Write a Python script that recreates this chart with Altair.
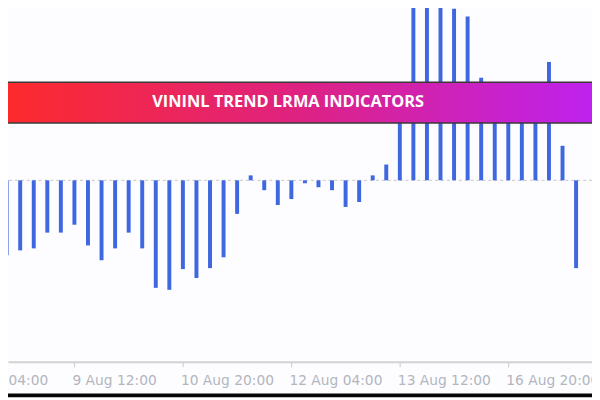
import altair as alt
import pandas as pd

# ---- data ----
bar_index = list(range(43))
lrma = [-76, -71, -69, -53, -53, -45, -66, -81, -69, -53, -69, -109, -111, -90,
        -99, -89, -78, -34, 5, -10, -25, -19, -3, -7, -10, -27, -22, 5, 16, 80,
        176, 182, 179, 174, 166, 104, 90, 88, 85, 92, 120, 35, -89]
tick_index = [-3, 5, 13, 21, 29, 37]
tick_labels = ["6 Aug 04:00", "9 Aug 12:00", "10 Aug 20:00",
               "12 Aug 04:00", "13 Aug 12:00", "16 Aug 20:00"]
title_text = "VININL TREND LRMA INDICATORS"

W, H = 592, 356

bars_df = pd.DataFrame({"i": bar_index, "v": lrma, "base": [0] * len(lrma)})
ticks_df = pd.DataFrame({"i": tick_index, "label": tick_labels})
one_df = pd.DataFrame({"zero": [0]})

xscale = alt.Scale(domain=[0.465, 42.81], nice=False, zero=False)
yscale = alt.Scale(domain=[-184, 172], nice=False, zero=False)

zero_line = alt.Chart(one_df).mark_rule(
    color="#c4c4c4", strokeDash=[3, 3], strokeWidth=1
).encode(y=alt.Y("zero:Q", scale=yscale, axis=None))

bars = alt.Chart(bars_df).mark_bar(size=4, color="#3f67e0").encode(
    x=alt.X("i:Q", scale=xscale,
            axis=alt.Axis(values=tick_index, labels=False, ticks=True, tickSize=5,
                          tickColor="#c8c8c8", domainColor="#d2d2d2", domainWidth=2,
                          grid=False, title=None)),
    y=alt.Y("v:Q", scale=yscale, axis=None),
    y2="base:Q",
)

banner = alt.Chart(one_df).mark_rect(
    color=alt.LinearGradient(
        gradient="linear", x1=0, x2=1, y1=0, y2=0,
        stops=[alt.GradientStop(color="#fd2a2c", offset=0),
               alt.GradientStop(color="#de2282", offset=0.5),
               alt.GradientStop(color="#be22ee", offset=1)])
).encode(x=alt.value(0), x2=alt.value(W), y=alt.value(72.5), y2=alt.value(114))

border_top = alt.Chart(one_df).mark_rule(color="#3a3a3a", strokeWidth=1.5).encode(
    x=alt.value(0), x2=alt.value(W), y=alt.value(72.5))
border_bot = alt.Chart(one_df).mark_rule(color="#3a3a3a", strokeWidth=1.5).encode(
    x=alt.value(0), x2=alt.value(W), y=alt.value(114))

title = alt.Chart(one_df).mark_text(
    text=title_text, font="Open Sans", fontWeight="bold", fontSize=16.6,
    color="white", align="center", baseline="middle"
).encode(x=alt.value(284), y=alt.value(93))

labels = alt.Chart(ticks_df).mark_text(
    align="left", baseline="alphabetic", dx=-2, font="DejaVu Sans",
    fontSize=14, color="#b2b6c0"
).encode(x=alt.X("i:Q", scale=xscale), y=alt.value(379), text="label:N")

strip = alt.Chart(one_df).mark_rect(color="#050505").encode(
    x=alt.value(0), x2=alt.value(W), y=alt.value(388), y2=alt.value(392))

chart = alt.layer(zero_line, bars, banner, border_top, border_bot, title, labels, strip).properties(
    width=W, height=H, autosize="none",
    padding={"left": 0, "top": 0, "right": 0, "bottom": 36},
    background="#fdfdff",
).configure_view(stroke=None)

chart.save("out.html", embed_options={"renderer": "svg", "actions": False})
